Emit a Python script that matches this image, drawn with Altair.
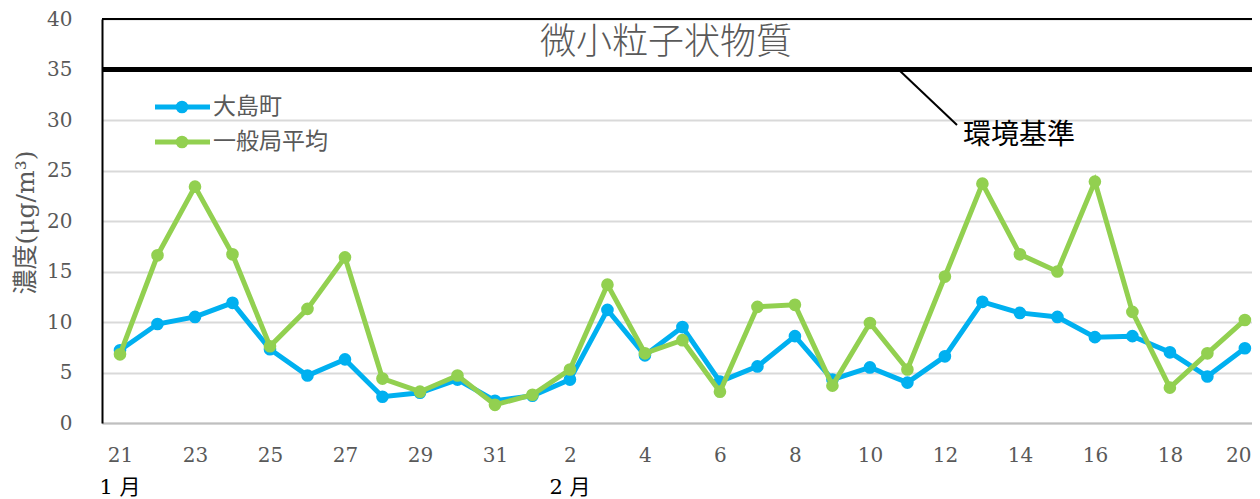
import altair as alt
import pandas as pd

# ---- data ----
day_labels = [str(d) for d in range(21, 32)] + [str(d) for d in range(1, 21)]
oshima = [7.2, 9.8, 10.5, 11.9, 7.3, 4.7, 6.3, 2.6, 3.0, 4.3, 2.2,
          2.7, 4.3, 11.2, 6.7, 9.5, 4.1, 5.6, 8.6, 4.3, 5.5,
          4.0, 6.6, 12.0, 10.9, 10.5, 8.5, 8.6, 7.0, 4.6, 7.4]
general = [6.8, 16.6, 23.4, 16.7, 7.6, 11.3, 16.4, 4.4, 3.1, 4.7, 1.8,
           2.8, 5.3, 13.7, 6.9, 8.2, 3.1, 11.5, 11.7, 3.7, 9.9,
           5.3, 14.5, 23.7, 16.7, 15.0, 23.9, 11.0, 3.5, 6.9, 10.2]
series_names = ["大島町", "一般局平均"]
series_colors = ["#00B0F0", "#92D050"]
y_ticks = [0, 5, 10, 15, 20, 25, 30, 35, 40]
month_names = ["1 月", "2 月"]
month_index = [0, 12]
standard_value = 35
standard_label = "環境基準"
title_text = "微小粒子状物質"
y_title = "濃度(μg/m³)"

SERIF = "DejaVu Serif, Liberation Serif, Noto Sans CJK JP, serif"
CJK = "Noto Sans CJK JP"

idx = list(range(len(day_labels)))
df = pd.DataFrame({
    "i": idx * 2,
    "v": oshima + general,
    "s": [series_names[0]] * len(idx) + [series_names[1]] * len(idx),
})
label_js = "[" + ",".join("'%s'" % d for d in day_labels) + "][datum.value]"
last_i = len(day_labels) - 1

W, H = 1150, 404
xscale = alt.Scale(domain=[-0.48, 30.19], nice=False, zero=False)
yscale = alt.Scale(domain=[0, 40], nice=False)

xaxis = alt.Axis(values=list(range(0, 31, 2)), labelExpr=label_js, ticks=False,
                 grid=False, labelPadding=22, labelFont=SERIF, labelFontSize=20,
                 labelColor="#595959", domainColor="#bfbfbf", domainWidth=2, title=None,
                 labelFlush=False, labelOverlap=False,
                 labelAlign={"condition": {"test": "datum.value == %d" % last_i, "value": "right"},
                             "value": "center"},
                 labelOffset={"condition": {"test": "datum.value == %d" % last_i, "value": 6},
                              "value": 0})
yaxis = alt.Axis(values=y_ticks, ticks=False, grid=True, gridColor="#d9d9d9", gridWidth=2,
                 labelPadding=30, labelFont=SERIF, labelFontSize=20,
                 labelColor="#595959", domainColor="#000000", domainWidth=2,
                 title=y_title, titleFont=SERIF, titleFontSize=25,
                 titleFontWeight="normal", titleColor="#595959", titleAngle=-90,
                 titleX=-77, titleY=203, titleAlign="center", titleBaseline="middle")

base = alt.Chart(df)

axes = base.mark_line(opacity=0).encode(
    x=alt.X("i:Q", scale=xscale, axis=xaxis),
    y=alt.Y("v:Q", scale=yscale, axis=yaxis),
)

std_rule = alt.Chart(pd.DataFrame({"y": [standard_value]})).mark_rule(
    color="#000000", strokeWidth=5).encode(y=alt.Y("y:Q", scale=yscale))
top_rule = alt.Chart(pd.DataFrame({"y": [40]})).mark_rule(
    color="#000000", strokeWidth=2).encode(y=alt.Y("y:Q", scale=yscale))

layers = [axes, top_rule, std_rule]
for name, col in zip(series_names, series_colors):
    sub = base.transform_filter(alt.datum.s == name)
    layers.append(sub.mark_line(color=col, strokeWidth=5).encode(
        x=alt.X("i:Q", scale=xscale), y=alt.Y("v:Q", scale=yscale)))
    layers.append(sub.mark_circle(color=col, size=160, opacity=1).encode(
        x=alt.X("i:Q", scale=xscale), y=alt.Y("v:Q", scale=yscale)))

# legend (manual)
leg_y = [88, 123]
for name, col, ly in zip(series_names, series_colors, leg_y):
    layers.append(alt.Chart(pd.DataFrame({"t": [name]})).mark_rule(
        color=col, strokeWidth=5).encode(x=alt.value(53), x2=alt.value(108), y=alt.value(ly)))
    layers.append(alt.Chart(pd.DataFrame({"t": [name]})).mark_circle(
        color=col, size=160, opacity=1).encode(x=alt.value(80), y=alt.value(ly)))
    layers.append(alt.Chart(pd.DataFrame({"t": [name]})).mark_text(
        align="left", baseline="middle", font=CJK, fontSize=23,
        color="#595959").encode(x=alt.value(111), y=alt.value(ly), text="t:N"))

# title inside the box
layers.append(alt.Chart(pd.DataFrame({"t": [title_text]})).mark_text(
    align="center", baseline="middle", font=CJK, fontSize=36, fontWeight=300,
    color="#595959").encode(x=alt.value(564), y=alt.value(24), text="t:N"))

# standard annotation
layers.append(alt.Chart(pd.DataFrame({"t": [standard_label]})).mark_rule(
    color="#000000", strokeWidth=2).encode(
    x=alt.value(797), x2=alt.value(855), y=alt.value(51), y2=alt.value(106)))
layers.append(alt.Chart(pd.DataFrame({"t": [standard_label]})).mark_text(
    align="left", baseline="middle", font=CJK, fontSize=28,
    color="#000000").encode(x=alt.value(861), y=alt.value(117), text="t:N"))

# month labels
layers.append(alt.Chart(pd.DataFrame({"i": month_index, "m": month_names})).mark_text(
    align="center", baseline="middle", font=SERIF, fontSize=21,
    color="#000000").encode(x=alt.X("i:Q", scale=xscale), y=alt.value(469), text="m:N"))

chart = alt.layer(*layers).properties(
    width=W, height=H,
    autosize=alt.AutoSizeParams(type="none"),
    padding={"left": 94, "top": 11, "right": 0, "bottom": 76},
).configure_view(stroke=None).configure(background="#ffffff")

chart.save("out.html", embed_options={"renderer": "svg", "actions": False})
